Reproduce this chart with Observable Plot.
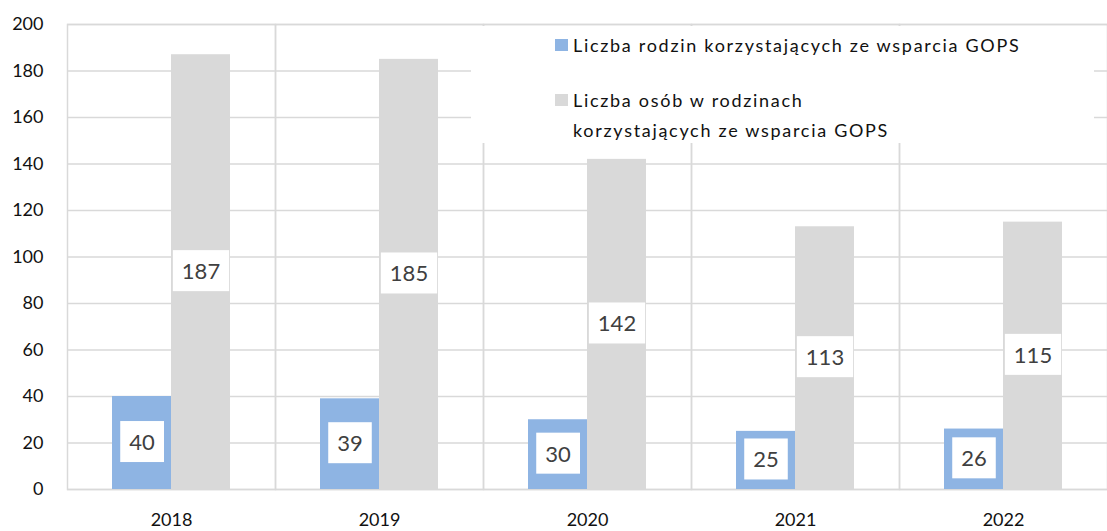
<!DOCTYPE html>
<html>
<head>
<meta charset="utf-8">
<script src="https://cdn.jsdelivr.net/npm/d3@7"></script>
<script src="https://cdn.jsdelivr.net/npm/@observablehq/plot@0.6"></script>
<style>
  html, body { margin: 0; padding: 0; background: #fff; }
  #wrap { position: relative; width: 1107px; height: 531px; font-family: Lato, "Open Sans", sans-serif; }
  #legend { position: absolute; left: 471px; top: 26px; width: 623px; height: 117px; background: #fff; font-size: 18px; color: #111; letter-spacing: 1.7px; }
  .item { position: absolute; left: 102px; line-height: 30px; white-space: nowrap; }
  .sw { position: absolute; left: -18px; top: 9px; width: 13px; height: 12px; }
</style>
</head>
<body>
<div id="wrap"></div>
<script>
const years = ["2018", "2019", "2020", "2021", "2022"];
const families = [40, 39, 30, 25, 26];
const persons = [187, 185, 142, 113, 115];
const seriesNames = [
  "Liczba rodzin korzystających ze wsparcia GOPS",
  "Liczba osób w rodzinach korzystających ze wsparcia GOPS"
];
const seriesColors = ["#8eb4e3", "#d9d9d9"];
const yTicks = [0, 20, 40, 60, 80, 100, 120, 140, 160, 180, 200];

const data = [];
years.forEach((y, i) => {
  data.push({year: y, series: seriesNames[0], value: families[i]});
  data.push({year: y, series: seriesNames[1], value: persons[i]});
});

const grid = "#d9d9d9";
const chart = Plot.plot({
  width: 1107,
  height: 531,
  marginLeft: 67,
  marginRight: 0,
  marginTop: 24,
  marginBottom: 42,
  style: {fontFamily: "Lato, 'Open Sans', sans-serif", background: "#fff"},
  fx: {domain: years, padding: 0, label: null, axis: null},
  x: {domain: seriesNames, paddingInner: 0, paddingOuter: 0.75, axis: null},
  y: {domain: [0, 200], label: null},
  color: {domain: seriesNames, range: seriesColors},
  marks: [
    Plot.gridY(yTicks, {stroke: grid, strokeOpacity: 1, strokeWidth: 1.5}),
    Plot.frame({stroke: grid, strokeWidth: 1.5}),
    Plot.barY(data, {fx: "year", x: "series", y: "value", fill: "series"}),
    Plot.text(data, {fx: "year", x: "series", y: d => d.value / 2, text: d => String(d.value),
      fill: "#404040", fontSize: 22, className: "vlabel"}),
    Plot.axisY(yTicks, {tickSize: 0, tickPadding: 24, fontSize: 18, fill: "#111", label: null}),
    Plot.axisFx({anchor: "bottom", tickSize: 0, tickPadding: 24, fontSize: 18, fill: "#111", label: null, letterSpacing: 1})
  ]
});

const wrap = document.getElementById("wrap");
wrap.appendChild(chart);

// white boxes behind value labels
chart.querySelectorAll(".vlabel text").forEach(t => {
  const b = t.getBBox();
  const r = document.createElementNS("http://www.w3.org/2000/svg", "rect");
  const padX = 9, padY = 7;
  r.setAttribute("x", b.x - padX);
  r.setAttribute("y", b.y - padY);
  r.setAttribute("width", b.width + 2 * padX);
  r.setAttribute("height", b.height + 2 * padY);
  r.setAttribute("fill", "#fff");
  if (t.getAttribute("transform")) r.setAttribute("transform", t.getAttribute("transform"));
  t.parentNode.insertBefore(r, t);
});

// legend
const legend = document.createElement("div");
legend.id = "legend";
const it1 = document.createElement("div");
it1.className = "item";
it1.style.top = "4px";
it1.innerHTML = `<span class="sw" style="background:${seriesColors[0]}"></span>${seriesNames[0]}`;
const it2 = document.createElement("div");
it2.className = "item";
it2.style.top = "59px";
it2.innerHTML = `<span class="sw" style="background:${seriesColors[1]}"></span>Liczba osób w rodzinach<br>korzystających ze wsparcia GOPS`;
legend.appendChild(it1);
legend.appendChild(it2);
wrap.appendChild(legend);
</script>
</body>
</html>
